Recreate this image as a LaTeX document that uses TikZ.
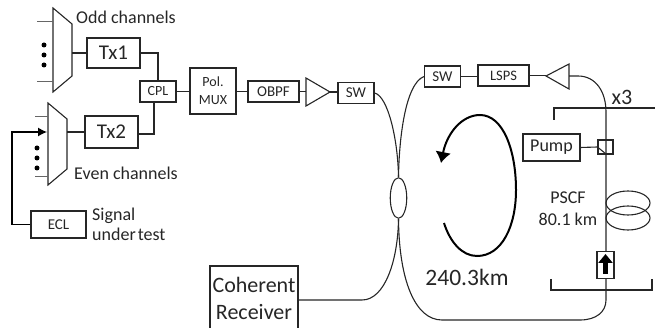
\documentclass[tikz,border=0pt]{standalone}
\usepackage{fontspec}
\setmainfont{Carlito}
\usetikzlibrary{arrows.meta,shapes.geometric}
\tikzset{
  ln/.style={line width=1.1pt,draw=black!85},
  thin ln/.style={line width=0.9pt,draw=black!60},
  bx/.style={ln,rectangle,inner sep=0pt,align=center,text=black!85},
  lbl/.style={inner sep=0pt,align=center,text=black!85},
  dot/.style={circle,fill=black,inner sep=0pt,minimum size=5pt}
}
\newcommand{\bxat}[8]{\node[bx,minimum width=#3pt,minimum height=#4pt,font=\fontsize{#6}{#7}\selectfont] (#5) at (#1,#2) {#8};}
\begin{document}
\begin{tikzpicture}[x=1pt,y=-1pt]
\useasboundingbox (0,0) rectangle (655,328);
% mux 1
\coordinate (m1a) at (53,8); \coordinate (m1b) at (72,24); \coordinate (m1c) at (72,76); \coordinate (m1d) at (53,92);
\draw[ln] (m1a)--(m1b)--(m1c)--(m1d)--cycle;
\coordinate (i1a) at (37,21); \coordinate (i1aa) at (53,21);
\coordinate (i1b) at (37,81); \coordinate (i1bb) at (53,81);
\draw[thin ln] (i1a)--(i1aa); \draw[thin ln] (i1b)--(i1bb);
\node[dot] (d1) at (44,45) {}; \node[dot] (d2) at (44,55) {}; \node[dot] (d3) at (44,65) {};
% mux 2
\coordinate (m2a) at (48,103); \coordinate (m2b) at (67,119); \coordinate (m2c) at (67,169); \coordinate (m2d) at (48,185);
\draw[ln] (m2a)--(m2b)--(m2c)--(m2d)--cycle;
\coordinate (i2a) at (35,116); \coordinate (i2aa) at (48,116);
\coordinate (i2b) at (35,176); \coordinate (i2bb) at (48,176);
\draw[thin ln] (i2a)--(i2aa); \draw[thin ln] (i2b)--(i2bb);
\node[dot] (d4) at (37,148) {}; \node[dot] (d5) at (37,158) {}; \node[dot] (d6) at (37,168) {};
% boxes
\bxat{113.5}{53}{53}{30}{tx1}{21}{23}{Tx1}
\bxat{111.5}{132}{53}{32}{tx2}{21}{23}{Tx2}
\bxat{158}{91.5}{36}{21}{cpl}{14}{16}{CPL}
\bxat{213}{91}{46}{46}{pol}{14}{18}{Pol.\\MUX}
\bxat{273.5}{91.5}{51}{21}{obpf}{15}{17}{OBPF}
\bxat{356}{93}{36}{21}{sw1}{15}{17}{SW}
\bxat{442.5}{76.5}{36}{21}{sw2}{15}{17}{SW}
\bxat{503.5}{75.5}{51}{21}{lsps}{14.5}{17}{LSPS}
\bxat{58.5}{224.5}{55}{27}{ecl}{15}{17}{ECL}
\bxat{254}{298}{88}{64}{rx}{22}{27}{Coherent\\Receiver}
\bxat{551.5}{147.5}{57}{27}{pump}{18}{20}{Pump}
% labels
\node[lbl,font=\fontsize{18}{20}\selectfont] (odd) at (126,17) {Odd channels};
\node[lbl,font=\fontsize{18}{20}\selectfont] (even) at (126,173) {Even channels};
\node[lbl,font=\fontsize{18}{20}\selectfont,align=left,anchor=west] (sig) at (92,224) {Signal\\{\spaceskip=2pt\relax under test}};
\node[lbl,font=\fontsize{22}{24}\selectfont] (x3) at (622,97) {x3};
\node[lbl,font=\fontsize{18}{22}\selectfont] (pscf) at (568,209) {PSCF\\80.1 km};
\node[lbl,font=\fontsize{23.5}{26}\selectfont] (dist) at (467,277) {240.3km};
% left connectors
\draw[ln] (m1b|-tx1.west)--(tx1.west);
\draw[ln] (m2b|-tx2.west)--(tx2.west);
\draw[ln] (tx1.east)-|(cpl.north);
\draw[ln] ([yshift=-2pt]tx2.east)-|(cpl.south -| 154,0);
\draw[ln] (cpl.east)--(cpl.east-|pol.west);
\draw[ln] (pol.east|-obpf.west)--(obpf.west);
% amp 1
\coordinate (a1a) at (306,78); \coordinate (a1b) at (330,92); \coordinate (a1c) at (306,106);
\draw[ln] (a1a)--(a1b)--(a1c)--cycle;
\draw[ln] (obpf.east)--(obpf.east-|a1a);
\draw[ln] (a1b)--(a1b-|sw1.west);
% ECL arrow
\coordinate (ar) at (47,132);
\draw[ln,line width=1.2pt,draw=black,-{Latex[length=9pt,width=9pt]}] (ecl.west)-|(12,132)--(ar);
% coupler
\node[ln,ellipse,draw,minimum width=16.5pt,minimum height=40.5pt,inner sep=0pt] (cp) at (398.5,198) {};
\draw[ln] (sw1.east) .. controls (388,96) and (398,140) .. (cp.north);
\draw[ln] (cp.north) .. controls (399,140) and (405,84) .. (sw2.west);
\draw[ln] (rx.east|-0,300) -- (362,300) .. controls (385,300) and (398,260) .. (cp.south);
% amp 2
\coordinate (a2a) at (546,76); \coordinate (a2b) at (569,64); \coordinate (a2c) at (569,89); \coordinate (a2m) at (569,76);
\draw[ln] (a2a)--(a2b)--(a2c)--cycle;
\draw[ln] (sw2.east)--(sw2.east-|lsps.west);
\draw[ln] (lsps.east)--(lsps.east-|a2a);
% main loop
\draw[ln] (a2m)--(578,76) .. controls (596,76) and (606,92) .. (606,112) -- (606,300)
  .. controls (606,312) and (596,320) .. (580,320) -- (442,320)
  .. controls (415,320) and (399,280) .. (cp.south);
% brackets
\coordinate (b1) at (554,120); \coordinate (b2) at (554,108); \coordinate (b3) at (655,108);
\draw[ln] (b1)--(b2)--(b3);
\coordinate (b4) at (551,279); \coordinate (b5) at (551,290); \coordinate (b6) at (652,290); \coordinate (b7) at (652,279);
\draw[ln] (b4)--(b5)--(b6)--(b7);
% wdm
\node[ln,draw,rectangle,minimum width=15pt,minimum height=14pt,inner sep=0pt] (wdm) at (605.5,147) {};
\draw[ln] (pump.east)--(wdm.west);
\draw[ln] (wdm.west) -- (606,154);
% coil
\node[ln,ellipse,draw,minimum width=44pt,minimum height=24pt,inner sep=0pt] (c1) at (628,203) {};
\node[ln,ellipse,draw,minimum width=44pt,minimum height=24pt,inner sep=0pt] (c2) at (628,218) {};
% isolator
\node[ln,draw,fill=white,rectangle,minimum width=17pt,minimum height=27pt,inner sep=0pt] (iso) at (605.5,265) {};
\coordinate (ib) at (605.5,274); \coordinate (it) at (605.5,254);
\draw[line width=5pt,-{Triangle[length=9pt,width=14pt]}] (ib)--(it);
% loop arrow
\coordinate (la) at (444,223);
\coordinate (lb) at (477,256);
\coordinate (lc) at (516,190);
\coordinate (ld) at (480,115);
\coordinate (le) at (441,163);
\draw[line width=2pt,-{Latex[length=11pt,width=16pt]}] (la)
 .. controls (450,242) and (462,256) .. (lb)
 .. controls (502,256) and (516,226) .. (lc)
 .. controls (516,150) and (503,115) .. (ld)
 .. controls (462,115) and (447,133) .. (le);
\end{tikzpicture}
\end{document}
